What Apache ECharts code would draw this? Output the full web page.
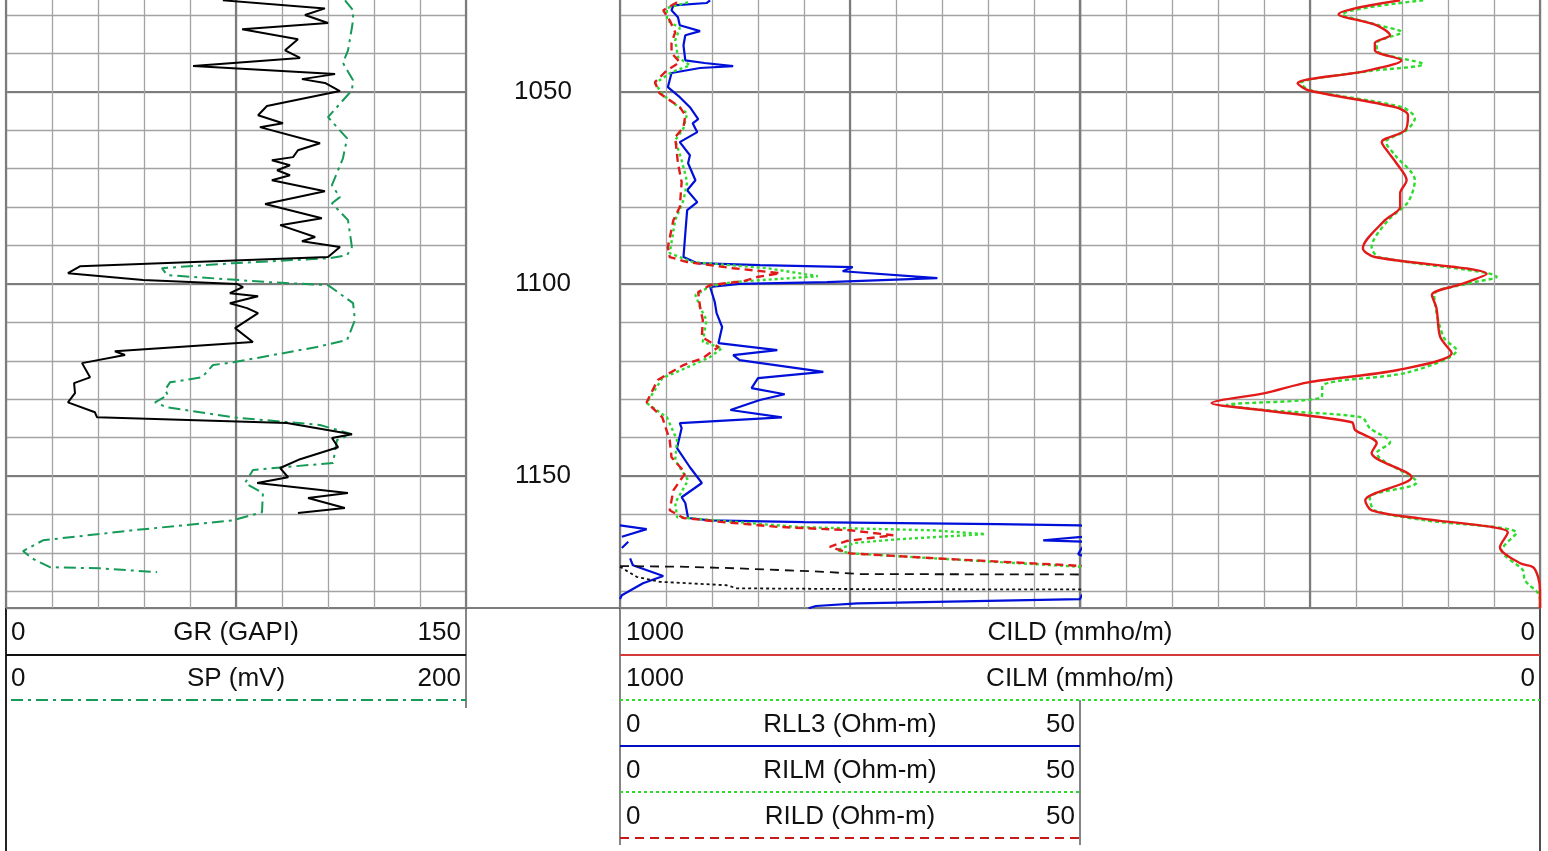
<!DOCTYPE html>
<html><head><meta charset="utf-8">
<script src="https://cdn.jsdelivr.net/npm/echarts@6/dist/echarts.min.js"></script>
<style>html,body{margin:0;padding:0;background:#fff;}#c{width:1548px;height:851px;}</style>
</head><body><div id="c"></div>
<script>
// ---------- DATA: [depth, value] ----------
const GR = [[1026.2,70.7],[1028.3,104.0],[1030.0,97.5],[1032.1,105.0],[1033.7,77.0],[1036.3,95.2],[1039.2,91.0],[1041.2,95.9],[1043.3,61.0],[1045.4,107.3],[1046.7,96.5],[1047.7,104.0],[1049.8,108.9],[1053.7,85.1],[1056.1,82.2],[1058.2,90.3],[1059.2,82.8],[1063.4,102.4],[1065.2,95.2],[1067.0,93.6],[1067.8,86.7],[1069.1,92.6],[1070.4,88.4],[1071.7,92.6],[1073.0,86.7],[1075.9,104.0],[1079.2,84.5],[1082.9,103.0],[1084.7,89.4],[1087.8,100.8],[1088.9,96.5],[1090.4,108.9],[1093.0,105.0],[1095.4,24.1],[1097.2,20.2],[1099.0,44.7],[1100.0,75.3],[1100.8,77.3],[1102.4,73.0],[1103.2,82.2],[1105.0,73.0],[1106.3,78.6],[1107.6,82.2],[1111.5,74.7],[1115.1,80.5],[1117.5,35.5],[1118.5,38.8],[1120.6,24.8],[1124.3,27.4],[1125.8,22.2],[1128.4,22.5],[1130.8,20.2],[1133.4,29.0],[1134.7,29.7],[1136.2,91.6],[1139.1,112.8],[1140.1,106.3],[1142.5,108.3],[1145.6,95.9],[1147.9,89.4],[1150.3,92.0],[1151.8,81.9],[1154.4,111.5],[1155.7,98.5],[1158.3,110.5],[1159.6,95.2]];
const SP = [[1026.2,147.4],[1028.8,150.9],[1031.4,150.9],[1034.7,150.0],[1039.2,148.7],[1042.5,146.5],[1047.0,150.9],[1049.6,150.4],[1056.6,140.0],[1062.1,148.3],[1067.3,146.5],[1074.3,141.7],[1077.4,145.2],[1079.0,141.7],[1083.4,148.7],[1090.4,150.4],[1092.5,148.3],[1093.3,140.9],[1094.6,98.7],[1095.9,67.8],[1097.7,70.0],[1099.5,113.5],[1100.3,140.0],[1105.0,150.9],[1109.4,151.7],[1114.6,148.3],[1116.4,135.2],[1120.4,98.7],[1121.1,90.0],[1124.3,85.2],[1125.6,71.3],[1127.6,69.1],[1128.9,70.4],[1130.8,64.8],[1132.1,70.0],[1134.7,98.7],[1136.7,136.5],[1139.1,150.4],[1140.6,143.9],[1146.6,142.2],[1147.7,120.4],[1148.4,107.4],[1151.8,103.9],[1154.4,111.7],[1159.4,111.3],[1161.5,98.7],[1164.1,55.2],[1166.7,16.1],[1169.5,7.4],[1171.4,11.3],[1173.7,19.1],[1174.0,40.9],[1175.0,65.7]];
const RLL3 = [[1026.2,9.8],[1026.9,9.4],[1027.5,5.8],[1028.8,5.6],[1030.6,6.3],[1032.7,6.5],[1034.2,8.7],[1035.3,7.1],[1037.9,6.9],[1041.8,7.1],[1042.5,9.2],[1043.3,12.3],[1043.8,8.7],[1045.1,5.6],[1048.8,5.2],[1051.4,6.5],[1054.0,7.6],[1057.1,8.5],[1058.2,7.9],[1060.5,8.4],[1063.1,6.5],[1066.5,7.6],[1068.6,7.4],[1073.0,8.2],[1075.6,7.3],[1078.7,8.4],[1080.8,7.3],[1086.8,7.1],[1093.0,6.9],[1094.6,8.4],[1095.1,15.2],[1095.6,25.3],[1096.7,24.2],[1098.5,34.5],[1099.5,22.5],[1100.0,13.0],[1100.8,9.8],[1104.7,10.3],[1107.6,10.5],[1111.2,11.1],[1115.4,10.7],[1117.2,17.1],[1118.5,12.3],[1119.8,13.0],[1122.9,22.1],[1124.5,15.0],[1127.1,14.3],[1128.7,17.9],[1130.2,15.2],[1132.8,12.0],[1134.7,17.6],[1136.2,6.5],[1137.5,6.7],[1142.7,6.2],[1147.7,7.6],[1151.8,8.9],[1155.5,6.7],[1157.0,7.1],[1160.9,7.4],[1161.5,9.8],[1162.0,20.0],[1162.5,41.0],[1162.8,50.0],[1163.8,52.9],[1165.8,50.2],[1166.7,46.0],[1167.1,50.9],[1168.7,50.2],[1170.3,49.8],[1171.4,51.1],[1173.2,51.4],[1176.0,54.7],[1177.9,52.5],[1181.0,50.2],[1182.0,50.0],[1182.3,49.9],[1183.1,25.8],[1183.8,21.3],[1184.4,20.5]];
const RILM = [[1026.7,7.4],[1028.2,5.1],[1031.4,5.1],[1033.4,6.5],[1036.6,6.0],[1041.0,6.3],[1043.1,7.6],[1044.9,5.6],[1047.8,3.8],[1050.9,4.7],[1055.6,7.3],[1059.5,6.9],[1062.6,6.0],[1067.8,6.7],[1073.5,7.3],[1078.2,6.9],[1083.4,6.0],[1092.0,5.4],[1094.3,7.9],[1095.9,16.0],[1098.0,21.5],[1099.5,12.3],[1100.6,9.8],[1102.9,8.2],[1106.0,8.7],[1109.4,9.4],[1115.1,9.0],[1116.7,11.1],[1119.0,9.8],[1121.1,7.9],[1124.5,4.6],[1131.0,2.9],[1134.7,5.1],[1140.6,6.2],[1145.9,6.0],[1151.1,7.4],[1157.0,6.0],[1160.7,6.2],[1163.3,19.6],[1164.1,34.0],[1165.1,39.7],[1166.4,30.4],[1167.4,25.5],[1169.3,23.6],[1170.1,25.0],[1171.9,37.7],[1173.6,50.0],[1176.2,51.8],[1177.5,54.3],[1178.4,61.6],[1179.2,62.7],[1179.4,76.1],[1179.5,100.0],[1184.4,120.0]];
const RILD = [[1026.7,6.2],[1028.8,4.7],[1031.4,5.4],[1034.5,6.0],[1037.3,5.6],[1039.9,5.6],[1042.3,6.5],[1044.4,5.1],[1047.5,3.8],[1050.4,4.3],[1054.0,6.5],[1056.1,7.1],[1059.2,6.9],[1061.8,6.0],[1068.6,6.3],[1073.5,6.7],[1080.0,6.5],[1083.4,5.8],[1090.4,5.2],[1093.0,5.4],[1094.3,7.3],[1095.9,12.3],[1097.2,17.4],[1098.2,14.9],[1099.3,13.4],[1100.3,9.8],[1102.1,8.5],[1106.0,8.7],[1109.4,9.0],[1113.8,8.9],[1116.4,10.7],[1119.3,9.0],[1121.1,6.9],[1125.0,4.1],[1130.8,2.9],[1134.7,4.6],[1140.6,5.4],[1145.1,5.6],[1149.2,7.1],[1153.7,5.8],[1158.9,5.4],[1160.9,6.9],[1161.9,10.9],[1163.2,17.1],[1164.1,25.0],[1165.4,29.7],[1166.1,27.2],[1166.9,24.6],[1168.4,22.8],[1170.1,25.0],[1171.6,35.9],[1173.2,48.9],[1173.4,50.0],[1173.6,57.2],[1174.0,62.7],[1174.9,72.1],[1175.5,76.1],[1175.6,100.0],[1180.0,130.0],[1184.4,140.0]];
const CILD = [[1026.2,304],[1029.8,438],[1032.7,355],[1035.3,326],[1037.3,359],[1039.2,359],[1041.8,301],[1044.6,380],[1047.8,527],[1049.6,504],[1054.0,315],[1056.1,287],[1060.0,293],[1063.1,344],[1065.7,330],[1068.6,312],[1073.0,290],[1076.4,304],[1080.0,304],[1083.4,337],[1090.7,385],[1093.0,359],[1097.4,116],[1100.0,170],[1102.9,235],[1106.3,225],[1113.8,217],[1118.0,192],[1122.4,309],[1125.6,504],[1128.4,598],[1131.0,714],[1132.8,605],[1136.0,409],[1138.0,402],[1141.4,355],[1144.0,366],[1150.3,279],[1156.3,380],[1158.9,366],[1161.0,261],[1163.3,102],[1164.6,70],[1168.5,87],[1172.7,43],[1173.7,15],[1176.3,4],[1179.7,0],[1184.4,0]];
const CILM = [[1026.2,254],[1029.8,430],[1032.7,350],[1034.5,301],[1037.3,355],[1039.2,355],[1042.8,254],[1044.6,370],[1047.8,520],[1049.6,500],[1054.0,300],[1056.9,272],[1060.0,290],[1063.1,335],[1066.5,315],[1073.0,272],[1078.7,287],[1083.4,330],[1090.4,366],[1093.0,350],[1098.2,94],[1100.0,160],[1102.9,230],[1113.8,210],[1117.2,181],[1123.0,287],[1126.3,472],[1129.5,475],[1131.5,681],[1132.8,600],[1134.7,388],[1137.5,370],[1141.2,326],[1144.0,355],[1151.6,268],[1155.5,370],[1158.9,360],[1161.5,250],[1164.8,51],[1169.3,83],[1174.5,37],[1177.1,33],[1180.5,4],[1182.3,0],[1184.4,0]];
const depthLabels = [1050, 1100, 1150];
const depthRange = [1000, 1184.32];
const grScale = [0, 150], spScale = [0, 200], resScale = [0, 50], condScale = [0, 1000];

// ---------- LAYOUT ----------
const PX = 3.843;                 // pixels per depth unit
const Y1050 = 91.8;
const gTop = Y1050 - (1050 - depthRange[0]) * PX;
const gH = (depthRange[1] - depthRange[0]) * PX;
const FONT = '"Liberation Sans", Arial, Helvetica, sans-serif';
const LIGHT = '#a3a3a3', DARK = '#7c7c7c';

const grids = [6, 466, 620, 1080].map((l, i) => ({
  left: l, top: gTop, width: i === 1 ? 154 : 460, height: gH, outerBoundsMode: 'none', containLabel: false, show: false
}));

function xAx(grid, rng, interval, color, width, inverse, pos) {
  return { type: 'value', gridIndex: grid, min: rng[0], max: rng[1], interval, inverse: !!inverse, position: pos,
    axisLine: {show: false}, axisTick: {show: false}, axisLabel: {show: false},
    splitLine: {show: color != null, lineStyle: {color: color || LIGHT, width: width || 1}} };
}
function yAx(grid, interval, color, width) {
  return { type: 'value', gridIndex: grid, min: depthRange[0], max: depthRange[1], interval, inverse: true,
    axisLine: {show: false}, axisTick: {show: false}, axisLabel: {show: false},
    splitLine: {show: color != null, lineStyle: {color: color || LIGHT, width: width || 1}} };
}
const xAxis = [
  xAx(0, grScale, 15, LIGHT, 1.3, false, 'bottom'),
  xAx(0, spScale, 100, DARK, 2.2, false, 'top'),
  xAx(1, [0, 1], 1, null, 1, false, 'bottom'),
  xAx(2, resScale, 5, LIGHT, 1.3, false, 'bottom'),
  xAx(2, resScale, 25, DARK, 2.2, false, 'top'),
  xAx(3, condScale, 100, LIGHT, 1.3, true, 'bottom'),
  xAx(3, condScale, 500, DARK, 2.2, true, 'top')
];
const depthAxis = yAx(1, 50, null);
depthAxis.axisLabel = { show: true, inside: true, margin: 77, align: 'center', verticalAlign: 'middle',
  fontSize: 26, fontFamily: FONT, color: '#111', padding: [4, 0, 0, 0],
  formatter: v => depthLabels.indexOf(Math.round(v * 100) / 100) >= 0 ? String(v) : '' };
const yAxis = [
  yAx(0, 10, LIGHT, 1.3), yAx(0, 50, DARK, 2.2),
  depthAxis,
  yAx(2, 10, LIGHT, 1.3), yAx(2, 50, DARK, 2.2),
  yAx(3, 10, LIGHT, 1.3), yAx(3, 50, DARK, 2.2)
];

const pts = arr => arr.map(([d, v]) => [v, d]);
const wrapPts = arr => arr.map(([d, v]) => [v >= 50 ? v - 50 : null, d]);
function line(name, data, xi, yi, color, width, dash, smooth) {
  return { name, type: 'line', data, xAxisIndex: xi, yAxisIndex: yi, symbol: 'none', clip: true,
    smooth: smooth || false, connectNulls: false, animation: false, silent: true,
    lineStyle: {color, width, type: dash || 'solid'} };
}
const series = [
  line('SP', pts(SP), 1, 0, '#169a58', 2, [12, 5, 3, 5]),
  line('GR', pts(GR), 0, 0, '#000000', 2),
  line('RLL3', pts(RLL3), 3, 3, '#0010d8', 2.2),
  line('RLL3 wrap', wrapPts(RLL3), 3, 3, '#0010d8', 2.2),
  line('RILM', pts(RILM), 3, 3, '#2edc2e', 2.4, [3, 3]),
  line('RILM wrap', wrapPts(RILM), 3, 3, '#111111', 1.8, [3, 3]),
  line('RILD', pts(RILD), 3, 3, '#e21a1a', 2.4, [8, 5]),
  line('RILD wrap', wrapPts(RILD), 3, 3, '#111111', 1.8, [9, 6]),
  line('CILM', pts(CILM), 5, 5, '#2edc2e', 2.4, [4, 3], 0.3),
  line('CILD', pts(CILD), 5, 5, '#e21a1a', 2.4, null, 0.3)
];

// ---------- HEADER ----------
const hdrTrack1 = [['0', 'GR (GAPI)', '150'], ['0', 'SP (mV)', '200']];
const hdrTrack23 = [['1000', 'CILD (mmho/m)', '0'], ['1000', 'CILM (mmho/m)', '0']];
const hdrTrack2 = [['0', 'RLL3 (Ohm-m)', '50'], ['0', 'RILM (Ohm-m)', '50'], ['0', 'RILD (Ohm-m)', '50']];
const g = [];
function txt(x, y, t, align) {
  g.push({ type: 'text', x, y, silent: true, style: { text: t, font: '26px ' + FONT, fill: '#111',
    align, verticalAlign: 'middle', textAlign: align, textVerticalAlign: 'middle' } });
}
function ln(x1, y1, x2, y2, color, w, dash) {
  g.push({ type: 'line', silent: true, shape: {x1, y1, x2, y2},
    style: { stroke: color, lineWidth: w, lineDash: dash || null } });
}
function rows(list, y0, l, c, r) {
  list.forEach((row, i) => { const y = y0 + i * 46; txt(l, y, row[0], 'left'); txt(c, y, row[1], 'center'); txt(r, y, row[2], 'right'); });
}
rows(hdrTrack1, 633, 11, 236, 461);
rows(hdrTrack23, 633, 626, 1080, 1535);
rows(hdrTrack2, 725, 626, 850, 1075);
ln(466, 608, 620, 608, DARK, 2.2);
ln(6, 608, 6, 851, '#222', 2);
ln(466, 608, 466, 708, '#333', 1.2);
ln(6, 655, 466, 655, '#111', 2);
ln(11, 700, 466, 700, '#169a58', 2, [12, 5, 3, 5]);
ln(620, 608, 620, 845, '#333', 1.2);
ln(1540, 608, 1540, 851, '#222', 1.6);
ln(620, 655, 1540, 655, '#d43a3a', 2);
ln(620, 700, 1540, 700, '#2edc2e', 2, [3, 3]);
ln(1080, 700, 1080, 845, '#333', 1.2);
ln(620, 746, 1080, 746, '#0010c0', 2);
ln(620, 792, 1080, 792, '#2edc2e', 2, [3, 3]);
ln(620, 838, 1080, 838, '#c41a1a', 2, [9, 6]);

const chart = echarts.init(document.getElementById('c'), null, {renderer: 'canvas'});
chart.setOption({ animation: false, backgroundColor: '#ffffff', grid: grids, xAxis, yAxis, series, graphic: {elements: g} });
</script></body></html>
